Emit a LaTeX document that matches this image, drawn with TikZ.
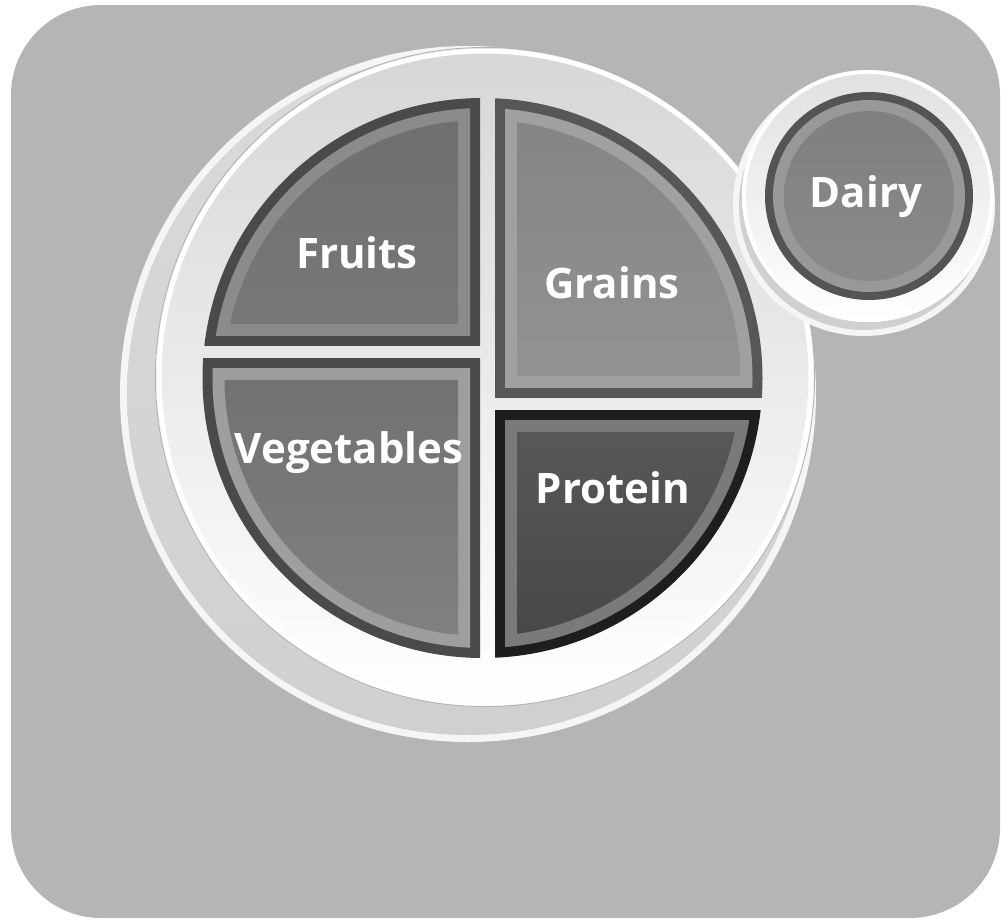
\documentclass[tikz,border=0pt]{standalone}
\usepackage{fontspec}
\setmainfont{Open Sans}
\definecolor{bgcol}{HTML}{B5B5B5}
\definecolor{rimcol}{HTML}{D0D0D0}
\definecolor{fruitsedge}{HTML}{4A4A4A}
\definecolor{fruitsband}{HTML}{8B8B8B}
\definecolor{grainsedge}{HTML}{575757}
\definecolor{grainsband}{HTML}{A0A0A0}
\definecolor{vegedge}{HTML}{4A4A4A}
\definecolor{vegband}{HTML}{9E9E9E}
\definecolor{proteinedge}{HTML}{1E1E1E}
\definecolor{proteinband}{HTML}{7A7A7A}
\definecolor{dairyedge}{HTML}{545454}
\definecolor{dairyband}{HTML}{989898}
\tikzset{foodname/.style={text=white,font=\bfseries\fontsize{42}{42}\selectfont,anchor=base,inner sep=0pt}}
% one part of the plate: #1 x edge, #2 y edge, #3 #4 direction, #5 edge, #6 band, #7 shading
\newcommand{\foodpart}[7]{%
  \begin{scope}
    \clip ({#1},{#2}) rectangle ({#1+#3*400},{#2+#4*400});
    \fill[#5] (C) circle[radius=280pt];
  \end{scope}
  \begin{scope}
    \clip ({#1+#3*10},{#2+#4*10}) rectangle ({#1+#3*400},{#2+#4*400});
    \fill[#6] (C) circle[radius=270pt];
  \end{scope}
  \begin{scope}
    \clip ({#1+#3*22},{#2+#4*22}) rectangle ({#1+#3*400},{#2+#4*400});
    \clip (C) circle[radius=258pt];
    \shade[#7] ({#1},{#2}) rectangle ({#1+#3*400},{#2+#4*400});
  \end{scope}}
\begin{document}
\begin{tikzpicture}[x=1pt,y=-1pt]
  \useasboundingbox (0,0) rectangle (1002,919);
  \fill[bgcol, rounded corners=90pt] (11,5) rectangle (1000,918); % Hintergrund
  \coordinate (D) at (468,394); % Tellerboden
  \coordinate (T) at (485,377); % Tellerflaeche
  \coordinate (C) at (482.5,378); % Mitte der Teile
  % Teller
  \fill[white!96!black] (D) circle[radius=348pt];
  \shade[top color=rimcol!80!white, bottom color=rimcol] (D) circle[radius=341pt];
  \draw[gray!60, line width=1pt] (T) circle[radius=329.5pt];
  \shade[top color=white!84!black, bottom color=white] (T) circle[radius=329pt];
  \draw[white, line width=5pt] (T) circle[radius=326pt];
  % Teile
  \foodpart{480}{345}{-1}{-1}{fruitsedge}{fruitsband}{top color=white!41!black, bottom color=white!47!black}
  \foodpart{480}{358}{-1}{1}{vegedge}{vegband}{top color=white!44!black, bottom color=white!53!black}
  \foodpart{495}{397}{1}{-1}{grainsedge}{grainsband}{top color=white!49!black, bottom color=white!58!black}
  \foodpart{495}{410}{1}{1}{proteinedge}{proteinband}{top color=white!35!black, bottom color=white!23!black}
  % Milch
  \coordinate (Dd) at (864,205);
  \coordinate (Dt) at (868,196);
  \coordinate (Dc) at (869,196);
  \fill[white!96!black] (Dd) circle[radius=131pt];
  \fill[rimcol] (Dd) circle[radius=125pt];
  \shade[top color=white!88!black, bottom color=white] (Dt) circle[radius=126pt];
  \draw[white, line width=4pt] (Dt) circle[radius=124pt];
  \fill[dairyedge] (Dc) circle[radius=104pt];
  \fill[dairyband] (Dc) circle[radius=96pt];
  \shade[top color=white!50!black, bottom color=white!54!black] (Dc) circle[radius=85pt];
  % Namen
  \node[foodname] (fruits) at (357,268) {Fruits};
  \node[foodname] (grains) at (612,298) {Grains};
  \node[foodname] (vegetables) at (349,463) {Vegetables};
  \node[foodname] (protein) at (613,503) {Protein};
  \node[foodname] (dairy) at (866,207) {Dairy};
\end{tikzpicture}
\end{document}
